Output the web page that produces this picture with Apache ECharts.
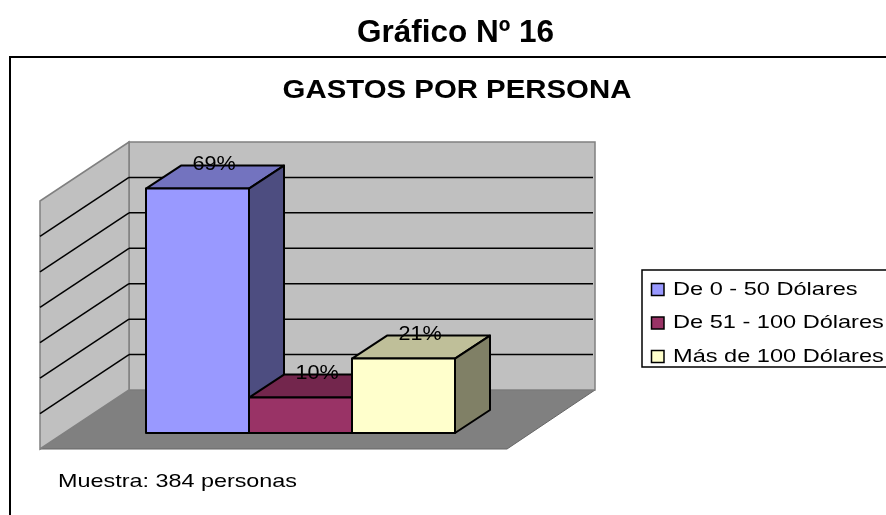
<!DOCTYPE html>
<html><head><meta charset="utf-8">
<style>html,body{margin:0;padding:0;background:#fff}#c{width:886px;height:515px}</style>
<script src="https://cdn.jsdelivr.net/npm/echarts@6/dist/echarts.min.js"></script>
</head><body><div id="c"></div>
<script>
const categories = ['De 0 - 50 Dólares', 'De 51 - 100 Dólares', 'Más de 100 Dólares'];
const seriesValues = [69, 10, 21];
const valueLabels = ['69%', '10%', '21%'];
const gridValues = [0, 10, 20, 30, 40, 50, 60, 70];
const frontColors = ['#9999ff', '#993366', '#ffffcc'];
const topColors = ['#7373bf', '#73264d', '#bfbf99'];
const sideColors = ['#4d4d80', '#4d1a33', '#808066'];
const FONT = '"Liberation Sans", Arial, sans-serif';
const DX = 35, DY = 23;               // bar depth
const WALL_DX = 17, WALL_DY = 43;     // back wall relative to the bar plane
const FLOOR_DX = 89, FLOOR_DY = 59;   // wall depth
const WALL_W = 466;

function stretched(x, y, text, size, stretch, weight, align) {
  return {type:'text', x, y, scaleX:stretch, silent:true,
    style:{text, fill:'#000', font:`${weight||'normal'} ${size}px ${FONT}`, textAlign:align||'left', textVerticalAlign:'middle'}};
}

function renderWalls(params, api) {
  const v = api.value(0);
  const p = api.coord([0, v]);
  const band = api.size([1, 0])[0];
  const left = p[0] - band / 2;
  const base = api.coord([0, 0])[1];
  const bx = left - WALL_DX, bw = base - WALL_DY;
  const y = p[1] - WALL_DY;
  const lx = bx - FLOOR_DX;
  const children = [];
  if (v === gridValues[0]) {
    const topY = api.coord([0, gridValues[gridValues.length - 1]])[1] - WALL_DY;
    const edge = {stroke:'#808080', lineWidth:1.5};
    children.push(
      {type:'polygon', shape:{points:[[lx, bw + FLOOR_DY],[bx, bw],[bx + WALL_W, bw],[bx + WALL_W - 88, bw + FLOOR_DY]]},
       style:{fill:'#808080', stroke:'#666', lineWidth:1}},
      {type:'polygon', shape:{points:[[bx, topY],[bx + WALL_W, topY],[bx + WALL_W, bw],[bx, bw]]},
       style:Object.assign({fill:'#c0c0c0'}, edge)},
      {type:'polygon', shape:{points:[[lx, topY + FLOOR_DY],[bx, topY],[bx, bw],[lx, bw + FLOOR_DY]]},
       style:Object.assign({fill:'#c0c0c0'}, edge)}
    );
  } else if (v !== gridValues[gridValues.length - 1]) {
    children.push(
      {type:'line', shape:{x1:bx, y1:y, x2:bx + WALL_W - 2, y2:y}, style:{stroke:'#000', lineWidth:1.5}},
      {type:'line', shape:{x1:bx, y1:y, x2:lx, y2:y + FLOOR_DY}, style:{stroke:'#000', lineWidth:1.5}}
    );
  }
  return {type:'group', children};
}

function renderBar(params, api) {
  const i = api.value(0), val = api.value(1);
  const c = api.coord([i, val]);
  const band = api.size([1, 0])[0];
  const x0 = c[0] - band / 2, x1 = c[0] + band / 2;
  const top = c[1], base = api.coord([i, 0])[1];
  const border = {stroke:'#000', lineWidth:2, lineJoin:'round'};
  return {type:'group', children:[
    {type:'polygon', shape:{points:[[x0, top],[x0 + DX, top - DY],[x1 + DX, top - DY],[x1, top]]},
     style:Object.assign({fill:topColors[i]}, border)},
    {type:'polygon', shape:{points:[[x1, top],[x1 + DX, top - DY],[x1 + DX, base - DY],[x1, base]]},
     style:Object.assign({fill:sideColors[i]}, border)},
    {type:'rect', shape:{x:x0, y:top, width:x1 - x0, height:base - top},
     style:Object.assign({fill:frontColors[i]}, border)},
    stretched(c[0] + DX / 2 - 1, top - DY - 1.5, valueLabels[i], 20, 1.08, 'normal', 'center')
  ]};
}

const legendX = 642, legendY = 270, legendW = 250, legendH = 97, rowH = 33.5;
const legendChildren = [
  {type:'rect', shape:{x:legendX, y:legendY, width:legendW, height:legendH},
   style:{fill:'#fff', stroke:'#000', lineWidth:1.5}}
];
categories.forEach((name, i) => {
  const cy = legendY + 19.5 + i * rowH;
  legendChildren.push(
    {type:'rect', shape:{x:legendX + 9.5, y:cy - 6, width:12.5, height:12},
     style:{fill:frontColors[i], stroke:'#000', lineWidth:1.5}},
    stretched(legendX + 31, cy, name, 19, 1.24)
  );
});

const chart = echarts.init(document.getElementById('c'), null, {renderer:'canvas'});
chart.setOption({
  animation:false,
  backgroundColor:'#fff',
  title:{text:'Gráfico Nº 16', left:357, top:17, padding:0,
    textStyle:{fontFamily:FONT, fontWeight:'bold', fontSize:31.5, color:'#000'}},
  grid:{left:146, top:185, width:309, height:248},
  xAxis:{type:'category', data:categories, show:false},
  yAxis:{type:'value', min:0, max:70, interval:10, show:false},
  graphic:[
    {type:'rect', z:-1, shape:{x:10, y:57, width:900, height:480},
     style:{fill:'#fff', stroke:'#000', lineWidth:2}},
    Object.assign(stretched(457, 91, 'GASTOS POR PERSONA', 25, 1.175, 'bold', 'center'), {z:5}),
    Object.assign(stretched(58, 482, 'Muestra: 384 personas', 19, 1.23), {z:5}),
    {type:'group', z:5, children:legendChildren}
  ],
  series:[
    {type:'custom', name:'walls', silent:true, z:1, clip:false, data:gridValues.map(v => [v]),
     encode:{y:0}, renderItem:renderWalls},
    {type:'custom', name:'bars', z:2, clip:false,
     data:seriesValues.map((v, i) => [i, v]), encode:{x:0, y:1}, renderItem:renderBar}
  ]
});
</script></body></html>
